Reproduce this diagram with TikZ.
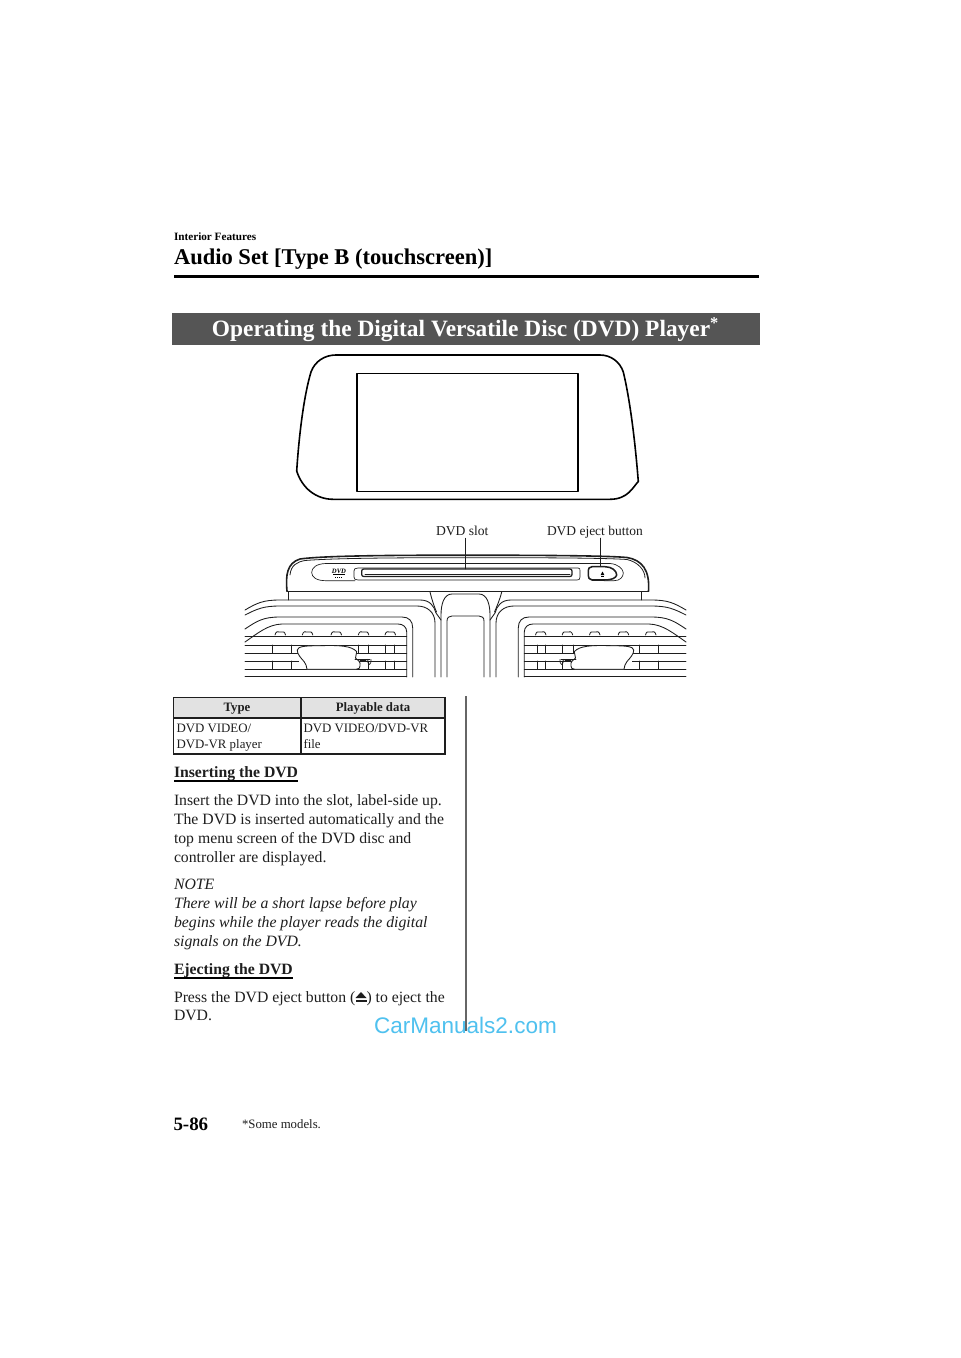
\documentclass[tikz,border=0pt]{standalone}
\usepackage{fontspec}
\setmainfont{Liberation Serif}
\newfontfamily\wmfont{Liberation Sans}
\definecolor{ink}{HTML}{1E1E1E}
\definecolor{barfill}{HTML}{555555}
\definecolor{headfill}{HTML}{E2E2E2}
\definecolor{rulegrey}{HTML}{666666}
\definecolor{wmblue}{HTML}{4FC1EF}
\newcommand{\szz}[1]{\fontsize{#1}{#1}\selectfont}
\tikzset{
  txt/.style={anchor=base west,inner sep=0pt,outer sep=0pt,text=ink},
  body/.style={txt,font=\szz{11.8}},
  bodyit/.style={txt,font=\szz{11.83}\itshape},
  small/.style={txt,font=\szz{9.65}},
  heading/.style={txt,font=\szz{11.8}\bfseries},
  art/.style={draw=ink,line width=0.65pt,line join=round,line cap=round},
  thin art/.style={draw=ink,line width=0.5pt,line join=round,line cap=round},
  heavy art/.style={draw=black,line width=1.2pt,line join=round},
  tbl/.style={draw=ink,line width=0.85pt},
  cellhead/.style={anchor=base,inner sep=0pt,outer sep=0pt,text=ink,font=\szz{9.6}\bfseries}
}
\newcommand{\knob}[1]{\draw[thin art,line width=0.6pt] (#1-5,635) .. controls (#1-4.5,632) and (#1-2,630.5) .. (#1+0.5,632) .. controls (#1+3,631) and (#1+5,632) .. (#1+5.5,635);}
\newcommand{\ventcommon}{
  \draw[art] (245,610) .. controls (257,603) and (263,600) .. (280,600) -- (420,600) .. controls (430,600) and (434,606) .. (436,613) -- (441,620);
  \draw[art] (245,615) .. controls (257,609) and (263,606) .. (280,606) -- (417,606) .. controls (427,606) and (435,612) .. (435,623) -- (435,677);
  \draw[art] (245,629) .. controls (257,621) and (263,617) .. (280,617) -- (402,617) .. controls (409,617) and (412.7,621) .. (412.7,628) -- (412.7,677);
  \draw[art] (245,642) .. controls (258,633) and (268,624.5) .. (282,624) -- (398,624) .. controls (403,624) and (406.7,627) .. (406.7,632) -- (406.7,677);
  \draw[thin art] (245,636.7) -- (406.7,636.7);
  \draw[thin art] (245,645) -- (406.7,645);
  \draw[thin art] (245,653.3) -- (406.7,653.3);
  \draw[thin art] (245,661) -- (406.7,661);
  \draw[thin art] (245,669) -- (406.7,669);
  \draw[thin art] (245,676.7) -- (406.7,676.7);
  \foreach \vx in {280,307.3,336,363.3,390} {\knob{\vx}}
  \foreach \vx in {272.7,291.7,358,368.3,385.7,394} {
    \draw[thin art] (\vx,645) -- (\vx,653.3) (\vx,661) -- (\vx,669);
  }
  \draw[thin art] (302.7,658) -- (302.7,669) (304.7,658) -- (304.7,669);
  \fill[white] (299,646) rectangle (345,668.5);
  \draw[art,fill=white] (297.3,650) .. controls (298,646.5) and (304,645.7) .. (320,645.7) .. controls (340,645) and (352,646) .. (356.7,651.7) -- (355.5,658) .. controls (358,660) and (361,662) .. (360,666) .. controls (360,668) and (359,669.3) .. (356,669.3) -- (307,669.3) .. controls (306.5,666) and (306,664) .. (304,661.5) .. controls (301,658) and (297,654) .. (297.3,650) -- cycle;
  \draw[thin art,line width=0.7pt] (355,659.3) -- (370,659.3);
  \draw[thin art] (360,660.5) -- (366,660.5) (367.5,659.3) .. controls (367.5,662) and (368,664.5) .. (369.5,664.5) .. controls (371,664.5) and (371,661) .. (371,659.5);
}
\begin{document}
\begin{tikzpicture}[x=0.75pt,y=-0.75pt]
\useasboundingbox (0,0) rectangle (960,1358);
\fill[white] (0,0) rectangle (960,1358);

% running head
\node[txt,font=\szz{8.4}\bfseries,text=black] (section) at (174,241) {Interior Features};
\node[txt,font=\szz{16.9}\bfseries,text=black] (chapter) at (174,265) {Audio Set [Type B (touchscreen)]};
\coordinate (ruleL) at (174,276.5);
\coordinate (ruleR) at (759,276.5);
\draw[black,line width=2.2pt] (ruleL) -- (ruleR);

% title bar
\node[fill=barfill,minimum width=441pt,minimum height=24pt,inner sep=0pt,outer sep=0pt,anchor=north west] (bar) at (172,313) {};
\node[anchor=base,inner sep=0pt,font=\szz{17.55}\bfseries,text=white] (title) at (465.5,337) {Operating the Digital Versatile Disc (DVD) Player\textsuperscript{*}};

% screen
\draw[heavy art] (296.7,471) .. controls (299,435) and (304,395) .. (311,372) .. controls (315,361) and (325,355) .. (336,355) -- (600,355) .. controls (611,355) and (620,362) .. (623.3,372) .. controls (630,400) and (635,440) .. (638.3,481.5) .. controls (633,487) and (628,499.3) .. (610,499.3) -- (333,499.3) .. controls (316,499.3) and (302,488) .. (296.7,471) -- cycle;
\draw[heavy art,line width=1.4pt] (356.7,373.5) rectangle (578.3,491.5);

% labels and leaders
\node[txt,font=\szz{10.2}] (slotlabel) at (436,535) {DVD slot};
\node[txt,font=\szz{10.1}] (ejectlabel) at (547,535) {DVD eject button};
\coordinate (slotend) at (465,569);
\coordinate (ejectend) at (600.7,566.5);
\draw[thin art,shorten <=2.3pt] (slotlabel.south -| slotend) -- (slotend);
\draw[thin art,shorten <=0.2pt] (ejectlabel.south -| ejectend) -- (ejectend);

% console strip
\draw[art,line width=1.2pt] (287,591) .. controls (285.5,575) and (287,563) .. (300,559) .. controls (325,555.5) and (400,555.2) .. (465,555.2) .. controls (530,555.2) and (605,555.5) .. (627,557.5) .. controls (642,560) and (650,570) .. (648.5,591);
\draw[art,line width=0.6pt] (290,575) .. controls (291,565) and (297,562) .. (305,560.5) .. controls (340,557.7) and (420,557.7) .. (465,557.7) .. controls (530,557.7) and (600,557.7) .. (627,559.5) .. controls (638,562) and (645,570) .. (645,578);
\draw[art,line width=1.2pt] (287,591.5) -- (648.5,591.5);
\draw[thin art] (288,592) -- (288,600) (641.7,592) -- (641.7,600);
% front panel
\draw[thin art] (326,563.5) -- (610,563.5) .. controls (618,564) and (623.3,569) .. (623.3,573) .. controls (623.3,577) and (620,580.7) .. (614,580.7) -- (604,580.7);
\draw[thin art] (326,563.5) .. controls (316,563.7) and (311.7,568) .. (311.7,572.5) .. controls (311.7,577) and (316,580.7) .. (326,580.7) -- (355,580.7);
% slot recess
\draw[thin art] (358,568) -- (578,568) .. controls (580,568) and (580,569) .. (580,571) -- (580,577) .. controls (580,579.5) and (579,580) .. (577,580) -- (358,580) .. controls (355,580) and (354,579) .. (354,577) -- (354,571) .. controls (354,569) and (355,568) .. (358,568);
\draw[art,line width=0.95pt,rounded corners=1.5pt] (361.7,569) rectangle (572,576.5);
\draw[thin art,line width=0.6pt] (365,574.2) -- (570,574.2);
% eject button
\draw[art,line width=1.15pt,fill=white] (592,566.7) -- (605,566.7) .. controls (612,566.7) and (616.7,571) .. (616.7,575) .. controls (616,578) and (612,580) .. (604,580) -- (592,580) .. controls (589,580) and (588.3,578) .. (588.3,573) .. controls (588.3,568) and (589,566.7) .. (592,566.7) -- cycle;
\fill[black] (600.7,575) -- (602.5,571.5) -- (604.3,575) -- cycle;
\fill[black] (600.7,575.6) rectangle (604.3,576.3);
% DVD logo
\node[inner sep=0pt,font=\szz{5}\bfseries\itshape,text=black] (logo) at (339,571.5) {DVD};
\draw[black,line width=0.6pt] (333,574.8) -- (345,574.8);
\draw[black,line width=0.55pt,densely dotted] (335,577.5) -- (343,577.5);

% centre column
\draw[art] (441,677) -- (441,615) .. controls (441,604) and (444,594) .. (452,594) -- (479,594) .. controls (487,594) and (490,604) .. (490,615) -- (490,677);
\draw[art] (430,592) .. controls (432,600) and (434,606) .. (436.5,612);
\draw[art] (501.7,592) .. controls (499.7,600) and (497,606) .. (494.5,612);
\draw[art] (447,677) -- (447,621) .. controls (447,617.5) and (449,616) .. (452,616) -- (479,616) .. controls (482,616) and (484,617.5) .. (484,621) -- (484,677);

% left vent
\ventcommon

% right vent
\begin{scope}[shift={(931,0)},xscale=-1]
\ventcommon
\end{scope}

% table
\fill[headfill] (173.5,697.5) rectangle (445,718);
\draw[tbl] (173.5,697.5) rectangle (445,754);
\draw[tbl] (173.5,718) -- (445,718);
\draw[tbl] (301,697.5) -- (301,754);
\node[cellhead] (th1) at (237,711) {Type};
\node[cellhead] (th2) at (373,711) {Playable data};
\node[small] (c1a) at (176.5,732) {DVD VIDEO/};
\node[small] (c1b) at (176.5,748) {DVD-VR player};
\node[small] (c2a) at (303.5,732) {DVD VIDEO/DVD-VR};
\node[small] (c2b) at (303.5,748) {file};

% column divider
\draw[rulegrey,line width=0.9pt] (466,696) -- (466,1031);

% body text
\node[heading] (h1) at (174,777) {Inserting the DVD};
\draw[black,line width=0.85pt] (h1.base west)++(0,4) -- ++(124,0);
\node[body] (p1) at (174,805) {Insert the DVD into the slot, label-side up.};
\node[body] (p2) at (174,824) {The DVD is inserted automatically and the};
\node[body] (p3) at (174,843) {top menu screen of the DVD disc and};
\node[body] (p4) at (174,862) {controller are displayed.};
\node[bodyit] (n0) at (174,889) {NOTE};
\node[bodyit] (n1) at (174,908) {There will be a short lapse before play};
\node[bodyit] (n2) at (174,927) {begins while the player reads the digital};
\node[bodyit] (n3) at (174,946) {signals on the DVD.};
\node[heading] (h2) at (174,974) {Ejecting the DVD};
\draw[black,line width=0.85pt] (h2.base west)++(0,4) -- ++(119,0);
\node[body] (e1) at (174,1002) {Press the DVD eject button (\hspace{8.4pt}) to eject the};
\node[body] (e2) at (174,1020.5) {DVD.};
\fill[ink] (355.5,998) -- (361,992) -- (366.5,998) -- cycle;
\fill[ink] (355.5,999.7) rectangle (366.5,1001.8);

% watermark
\node[txt,font=\wmfont\szz{16.9},text=wmblue] (wm) at (374,1033) {CarManuals2.com};

% footer
\node[txt,font=\szz{14.2}\bfseries,text=black] (pg) at (173.5,1130) {5-86};
\node[txt,font=\szz{9.6}] (fn) at (242,1128) {*Some models.};
\end{tikzpicture}
\end{document}
